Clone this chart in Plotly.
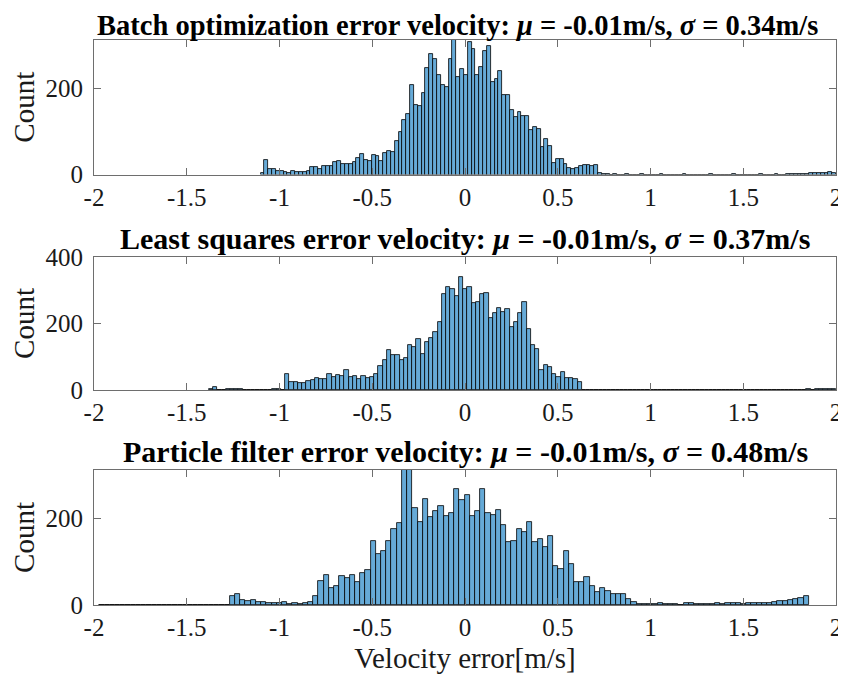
import plotly.graph_objects as go

# ---------------- data (histogram bins) ----------------
titles = [
    "Batch optimization error velocity: <i>μ</i> = -0.01m/s, <i>σ</i> = 0.34m/s",
    "Least squares error velocity: <i>μ</i> = -0.01m/s, <i>σ</i> = 0.37m/s",
    "Particle filter error velocity: <i>μ</i> = -0.01m/s, <i>σ</i> = 0.48m/s",
]

# bin layout of each histogram: first left edge and bin width (m/s)
bin_start = [-1.1024, -1.381, -1.971]
bin_width = [0.020683, 0.022845, 0.02812]

counts_batch = (
    [3, 34, 13, 12, 9, 9, 6, 4, 9, 5, 5, 5, 9, 18, 18, 12, 20, 19, 20, 28, 32, 24, 24, 24,
     30, 39, 48, 34, 32, 46, 43, 32, 50, 54, 52, 78, 98, 126, 139, 207, 160, 159]
    + [188, 246, 278, 267, 229, 207, 202, 267, 315, 226, 244, 229, 306, 290, 229, 248, 286,
       298, 213, 221, 240, 185, 185, 150, 133, 144, 135, 136, 104, 110, 105, 64, 83, 67, 27,
       35, 35, 25, 15, 12, 15, 19, 21, 21, 19, 21, 3]
    + [1, 1, 0, 1, 0, 0, 1, 0, 0, 0, 1, 0, 0, 0, 0, 1, 0, 0, 0, 0, 0, 1, 0, 0, 0, 0, 0, 0, 1,
       0, 0, 0, 0, 0, 1, 0, 0, 0, 0, 0, 0, 1, 0, 0, 0, 1, 0, 0, 1]
    + [1, 1, 2, 1, 2, 3, 4, 3, 4, 4, 5, 3]
)

counts_ls = (
    [4, 9, 1, 0, 4, 4, 4, 4, 1, 0, 1, 0, 1, 0, 1, 4, 4, 1]
    + [47, 24, 24, 22, 22, 27, 29, 35, 32, 32, 47, 40, 45, 42, 60, 40, 42, 32, 42, 36, 38,
       47, 71, 91, 121, 106, 104]
    + [90, 96, 134, 130, 152, 107, 143, 155, 174, 205, 288, 311, 303, 282, 340, 303, 311,
       262, 264, 288, 292, 216, 233, 248, 236, 243, 189, 206, 233, 264, 184, 135, 124, 61,
       74, 68, 47, 39, 55, 37, 37, 33, 23]
    + [0, 0, 1, 0, 0, 0, 0, 1, 0, 0, 0, 0, 0, 0, 0, 0, 1, 0, 0, 0, 0, 0, 0, 0, 0, 0, 1, 0,
       0, 0, 0, 0, 0, 0, 0, 0, 0, 1, 0, 0, 0, 0, 0, 0, 0, 0, 0, 0, 0, 0, 0, 0]
    + [0, 3, 1, 4, 4, 4, 4, 4]
)

counts_pf = (
    [0] * 25
    + [20, 25, 11, 9, 11, 7, 7, 5, 5, 5, 7, 3, 5, 3, 5, 7, 21, 56, 70, 39, 44, 67, 63]
    + [69, 54, 74, 81, 147, 117, 125, 147, 174, 189, 330, 320, 223, 191, 244, 202, 217,
       228, 204, 211, 267, 243, 254, 205, 216, 268, 211, 208, 219, 184, 146, 148, 174, 169,
       191, 146, 151]
    + [134, 160, 89, 84, 125, 95, 54, 54, 64, 44, 31, 39, 32, 25, 25, 25, 14, 6, 3, 3, 3, 2,
       5, 3, 3, 3, 1, 5, 5, 3, 3, 3, 3, 5, 3, 5, 5, 5, 3, 5, 5, 5, 5, 5, 8, 9, 9, 11, 13, 17,
       21]
)

all_counts = [counts_batch, counts_ls, counts_pf]

x_tick_vals = [-2, -1.5, -1, -0.5, 0, 0.5, 1, 1.5, 2]
x_tick_text = ["-2", "-1.5", "-1", "-0.5", "0", "0.5", "1", "1.5", "2"]
y_ranges = [[0, 311], [0, 400], [0, 311]]
y_tick_vals = [[0, 200], [0, 200, 400], [0, 200]]
x_label = "Velocity error[m/s]"
y_label = "Count"

# ---------------- figure ----------------
FONT = "Liberation Serif"
BAR_FILL = "rgb(102,170,215)"
AX_COL = "#6e6e6e"
TXT_COL = "#1a1a1a"

domains = [[0.7619, 1.0], [0.3805, 0.6159], [0.0, 0.2389]]
title_xshift = [-8, 0, 0]
title_yshift = [-3, 0, 0]
title_size = [28.5, 30, 30]

fig = go.Figure()
for i, cnt in enumerate(all_counts):
    w = bin_width[i]
    # zero-count bins are drawn as flat outlines, as in the reference
    shown = [c if c > 0 else 0.05 for c in cnt]
    fig.add_trace(go.Bar(
        y=shown, x0=bin_start[i] + w / 2, dx=w, width=w,
        marker=dict(color=BAR_FILL, line=dict(color="black", width=0.8)),
        xaxis="x" if i == 0 else f"x{i+1}",
        yaxis="y" if i == 0 else f"y{i+1}",
        showlegend=False, hoverinfo="skip",
    ))

layout = dict(
    width=846, height=676,
    margin=dict(l=86, r=18, t=32, b=79),
    paper_bgcolor="white", plot_bgcolor="white",
    bargap=0, barmode="overlay",
    font=dict(family=FONT, color=TXT_COL),
    annotations=[],
)

for i in range(3):
    xa = "xaxis" if i == 0 else f"xaxis{i+1}"
    ya = "yaxis" if i == 0 else f"yaxis{i+1}"
    layout[xa] = dict(
        domain=[0, 1], range=[-2, 2], anchor="y" if i == 0 else f"y{i+1}",
        tickvals=x_tick_vals, ticktext=x_tick_text,
        ticks="inside", ticklen=7, tickwidth=1, tickcolor=AX_COL,
        showline=True, linecolor=AX_COL, linewidth=1, mirror="ticks",
        showgrid=False, zeroline=False, automargin=False,
        tickfont=dict(family=FONT, size=25, color=TXT_COL),
    )
    layout[ya] = dict(
        domain=domains[i], range=y_ranges[i], anchor="x" if i == 0 else f"x{i+1}",
        tickvals=y_tick_vals[i],
        ticks="inside", ticklen=7, tickwidth=1, tickcolor=AX_COL,
        showline=True, linecolor=AX_COL, linewidth=1, mirror="ticks",
        showgrid=False, zeroline=False, automargin=False, ticklabelstandoff=5,
        tickfont=dict(family=FONT, size=25, color=TXT_COL),
        title=dict(text=y_label, font=dict(family=FONT, size=29, color=TXT_COL), standoff=6),
    )
    layout["annotations"].append(dict(
        text=f"<b>{titles[i]}</b>", xref="paper", yref="paper",
        x=0.5, y=domains[i][1], xanchor="center", yanchor="bottom",
        xshift=title_xshift[i], yshift=title_yshift[i],
        showarrow=False, font=dict(family=FONT, size=title_size[i], color="black"),
    ))

layout["xaxis3"]["title"] = dict(text=x_label, font=dict(family=FONT, size=29, color=TXT_COL),
                                 standoff=7)

fig.update_layout(**layout)
fig.write_html("out.html")
